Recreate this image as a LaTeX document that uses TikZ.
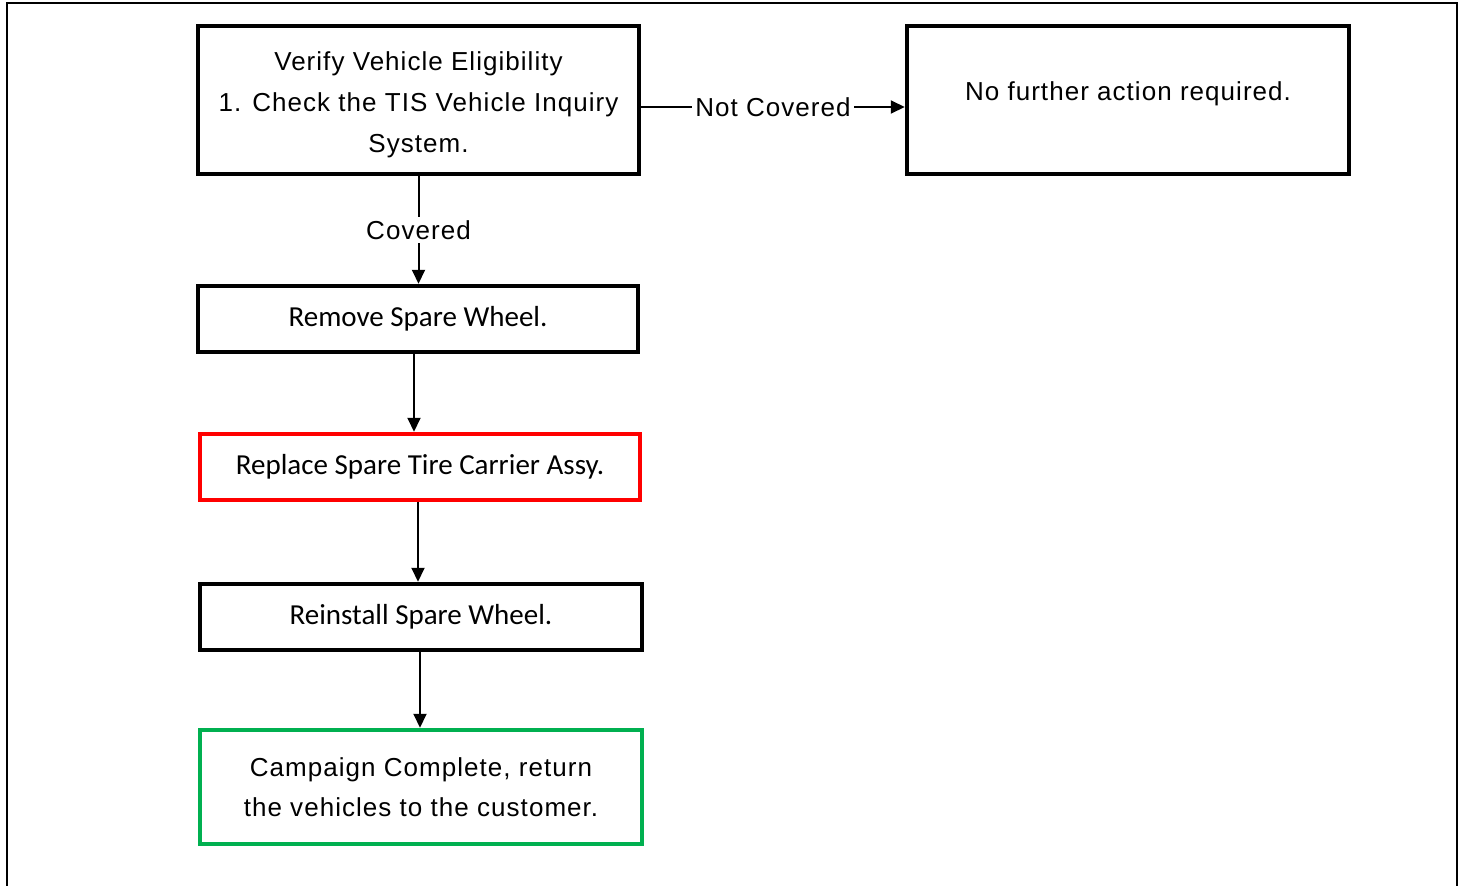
\documentclass[tikz,border=0pt]{standalone}
\usepackage{fontspec}
\setmainfont[LetterSpace=4]{Liberation Sans}
\newfontfamily\stepfont{Carlito}
\usetikzlibrary{arrows.meta}
\definecolor{boxred}{RGB}{255,0,0}
\definecolor{boxgreen}{RGB}{0,176,80}
\tikzstyle{box:plain}=[rectangle,draw,line width=4.5pt,inner sep=0pt,align=center,font=\fontsize{26}{41}\selectfont]
\tikzstyle{box:step}=[box:plain,font=\stepfont\fontsize{29}{35}\selectfont]
\tikzstyle{draw:connection}=[line width=2pt,-{Triangle[width=13pt,length=14pt]}]
\tikzstyle{label:connection}=[fill=white,inner sep=3pt,font=\fontsize{26}{30}\selectfont]

\begin{document}
\begin{tikzpicture}[x=1pt,y=-1pt]
        \useasboundingbox (0,0) rectangle (1465,886);
        % page frame
        \draw[line width=1.5pt] (7,886) -- (7,3) -- (1457,3) -- (1457,886);

        % Boxes
        \node[box:plain,minimum width=441pt,minimum height=148pt,text height=111pt] (verify) at (418.5,100)
            {Verify Vehicle Eligibility\\1. Check the TIS Vehicle Inquiry\\System.};
        \node[box:plain,minimum width=442pt,minimum height=148pt,text depth=17pt] (nofurther) at (1128,100)
            {No further action required.};
        \node[box:step,minimum width=440pt,minimum height=66pt] (remove) at (418,319) {Remove Spare Wheel.};
        \node[box:step,draw=boxred,minimum width=440pt,minimum height=66pt] (replace) at (420,467) {Replace Spare Tire Carrier Assy.};
        \node[box:step,minimum width=442pt,minimum height=66pt] (reinstall) at (421,617) {Reinstall Spare Wheel.};
        \node[box:plain,draw=boxgreen,minimum width=442pt,minimum height=114pt,font=\fontsize{26}{40}\selectfont] (campaign) at (421,787)
            {Campaign Complete, return\\the vehicles to the customer.};

        % Connections
        \draw[draw:connection] ([yshift=-7pt]verify.east) -- node[label:connection] {Not Covered} ([yshift=-7pt]nofurther.west);
        \draw[draw:connection] (verify.south) -- node[label:connection] {Covered} (verify.south |- remove.north);
        \draw[draw:connection] ([xshift=-4pt]remove.south) -- ([xshift=-4pt]remove.south |- replace.north);
        \draw[draw:connection] ([xshift=-2pt]replace.south) -- ([xshift=-2pt]replace.south |- reinstall.north);
        \draw[draw:connection] ([xshift=-1pt]reinstall.south) -- ([xshift=-1pt]reinstall.south |- campaign.north);
    \end{tikzpicture}
\end{document}
